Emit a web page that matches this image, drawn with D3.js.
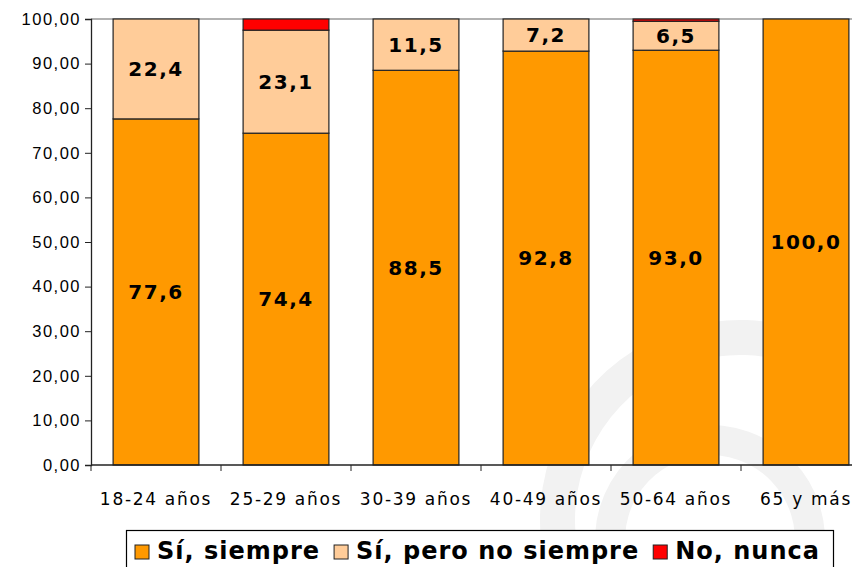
<!DOCTYPE html>
<html>
<head>
<meta charset="utf-8">
<script src="https://cdn.jsdelivr.net/npm/d3@7"></script>
<style>
  body { margin: 0; background: #fff; }
  svg { display: block; font-family: "DejaVu Sans", Verdana, sans-serif; }
</style>
</head>
<body>
<svg id="chart" width="852" height="567"></svg>
<script>
// data
var categories = ["18-24 años", "25-29 años", "30-39 años", "40-49 años", "50-64 años", "65 y más"];
var siempre = [77.6, 74.4, 88.5, 92.8, 93.0, 100.0];
var peroNo = [22.4, 23.1, 11.5, 7.2, 6.5, 0];
var nunca = [0, 2.5, 0, 0, 0.5, 0];
var seriesNames = ["Sí, siempre", "Sí, pero no siempre", "No, nunca"];
var seriesColors = ["#FF9900", "#FFCC99", "#FF0000"];
var yTicks = [0, 10, 20, 30, 40, 50, 60, 70, 80, 90, 100];

var svg = d3.select("#chart");
var plotLeft = 91, plotRight = 871, plotTop = 19, plotBottom = 465;

// faint watermark behind the plot
var wm = svg.append("g").attr("fill", "#f2f2f2");
wm.append("path")
    .attr("d", d3.arc()({innerRadius: 165, outerRadius: 200, startAngle: -2.5, endAngle: 0.2}))
    .attr("transform", "translate(740,520)");
wm.append("path")
    .attr("d", d3.arc()({innerRadius: 85, outerRadius: 115, startAngle: -2.2, endAngle: 1.5}))
    .attr("transform", "translate(710,540)");

var x = d3.scaleBand()
    .domain(categories)
    .range([plotLeft, plotRight])
    .paddingInner(0.34)
    .paddingOuter(0.17);

var y = d3.scaleLinear()
    .domain([0, 100])
    .range([plotBottom, plotTop]);

// build stack rows
var rows = categories.map(function(c, i) {
    return {cat: c, s0: siempre[i], s1: peroNo[i], s2: nunca[i]};
});
var stack = d3.stack().keys(["s0", "s1", "s2"])(rows);

// plot frame top line
svg.append("line")
    .attr("x1", plotLeft).attr("x2", plotRight)
    .attr("y1", plotTop).attr("y2", plotTop)
    .attr("stroke", "#666").attr("stroke-width", 1.2);

var layers = svg.selectAll(".layer")
    .data(stack)
    .enter().append("g")
    .attr("class", "layer")
    .attr("fill", function(d, i) { return seriesColors[i]; });

layers.selectAll("rect")
    .data(function(d) { return d.filter(function(p) { return p[1] - p[0] > 0; }); })
    .enter().append("rect")
    .attr("x", function(d) { return x(d.data.cat); })
    .attr("y", function(d) { return y(d[1]); })
    .attr("width", x.bandwidth())
    .attr("height", function(d) { return y(d[0]) - y(d[1]); })
    .attr("stroke", "#222")
    .attr("stroke-width", 1.2);

// value labels for first two series
var fmt = function(v) { return v.toFixed(1).replace(".", ","); };
stack.slice(0, 2).forEach(function(layer) {
    svg.append("g").selectAll("text")
        .data(layer.filter(function(d) { return d[1] - d[0] > 0; }))
        .enter().append("text")
        .attr("x", function(d) { return x(d.data.cat) + x.bandwidth() / 2; })
        .attr("y", function(d) { return y((d[0] + d[1]) / 2); })
        .attr("dy", "0.36em")
        .attr("text-anchor", "middle")
        .style("font-size", "20px")
        .style("font-weight", "bold")
        .style("letter-spacing", "1.5px")
        .attr("fill", "#000")
        .text(function(d) { return fmt(d[1] - d[0]); });
});

// y axis
var yAxis = svg.append("g")
    .attr("transform", "translate(" + plotLeft + ",0)")
    .call(d3.axisLeft(y).tickValues(yTicks).tickSize(6).tickPadding(4)
        .tickFormat(function(d) { return d.toFixed(2).replace(".", ","); }));
yAxis.select(".domain").attr("stroke", "#222").attr("stroke-width", 1.3);
yAxis.selectAll(".tick line").attr("stroke", "#222");
yAxis.selectAll("text")
    .attr("font-family", null)
    .attr("font-size", null)
    .style("font-size", "16.5px")
    .style("letter-spacing", "1.5px")
    .attr("fill", "#000");

// x axis (ticks between bars)
svg.append("line")
    .attr("x1", plotLeft).attr("x2", plotRight)
    .attr("y1", plotBottom).attr("y2", plotBottom)
    .attr("stroke", "#222").attr("stroke-width", 1.3);
var step = x.step();
svg.append("g").selectAll("line")
    .data(d3.range(categories.length + 1))
    .enter().append("line")
    .attr("x1", function(i) { return plotLeft + i * step; })
    .attr("x2", function(i) { return plotLeft + i * step; })
    .attr("y1", plotBottom).attr("y2", plotBottom + 6)
    .attr("stroke", "#222");
svg.append("g").selectAll("text")
    .data(categories)
    .enter().append("text")
    .attr("x", function(d) { return x(d) + x.bandwidth() / 2; })
    .attr("y", 505)
    .attr("text-anchor", "middle")
    .style("font-size", "17px")
    .style("letter-spacing", "1.7px")
    .attr("fill", "#000")
    .text(function(d) { return d; });

// legend
var legend = svg.append("g");
legend.append("rect")
    .attr("x", 126.5).attr("y", 530.5)
    .attr("width", 707).attr("height", 60)
    .attr("fill", "#fff").attr("stroke", "#000").attr("stroke-width", 1.2);
var lx = 135;
seriesNames.forEach(function(name, i) {
    legend.append("rect")
        .attr("x", lx).attr("y", 545)
        .attr("width", 14).attr("height", 14)
        .attr("fill", seriesColors[i])
        .attr("stroke", "#222");
    var t = legend.append("text")
        .attr("x", lx + 22).attr("y", 559)
        .style("font-size", "24px")
        .style("font-weight", "bold")
        .style("letter-spacing", "1px")
        .attr("fill", "#000")
        .text(name);
    lx += 22 + t.node().getComputedTextLength() + 14;
});
</script>
</body>
</html>
